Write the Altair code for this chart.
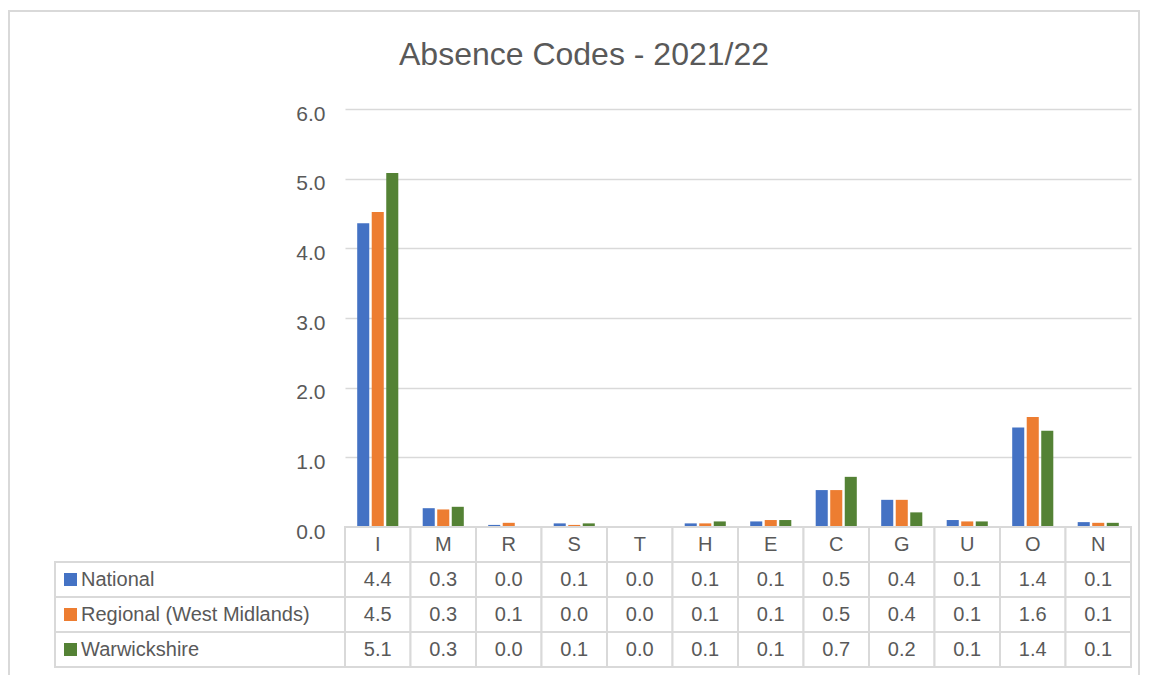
import altair as alt
import pandas as pd

codes = ["I", "M", "R", "S", "T", "H", "E", "C", "G", "U", "O", "N"]
series = ["National", "Regional (West Midlands)", "Warwickshire"]
colors = ["#4472c4", "#ed7d31", "#548235"]

national = [4.36, 0.27, 0.03, 0.052, 0.003, 0.052, 0.08, 0.53, 0.39, 0.10, 1.43, 0.07]
regional = [4.52, 0.252, 0.06, 0.03, 0.003, 0.052, 0.10, 0.53, 0.39, 0.08, 1.58, 0.06]
warwickshire = [5.08, 0.29, 0.004, 0.052, 0.01, 0.08, 0.10, 0.72, 0.21, 0.08, 1.38, 0.06]

FONT = "Liberation Sans"
TXT = "#595959"
GRID = "#d9d9d9"
W, H, ROW = 786, 418, 35
LABEL_W = 290

rows = []
for s, vals in zip(series, [national, regional, warwickshire]):
    for c, v in zip(codes, vals):
        rows.append({"code": c, "series": s, "value": v})
bars_df = pd.DataFrame(rows)

table_rows = [{"code": c, "row": "header", "label": c} for c in codes]
table_rows += [{"code": r["code"], "row": r["series"], "label": f"{r['value']:.1f}"} for r in rows]
table_df = pd.DataFrame(table_rows)

label_df = pd.DataFrame({"col": ["label"] * 3, "series": series})

x_cells = alt.Scale(domain=codes, paddingInner=0, paddingOuter=0)
y_rows = alt.Scale(domain=["header"] + series, range=[H, H + 4 * ROW], paddingInner=0, paddingOuter=0)
x_label = alt.Scale(domain=["label"], range=[-LABEL_W, 0], paddingInner=0, paddingOuter=0)
color_scale = alt.Scale(domain=series, range=colors)

# chart-area frame (decoration, like the Excel chart border)
frame = alt.Chart(pd.DataFrame({"f": [0]})).mark_rect(fill="transparent", stroke=GRID, strokeWidth=2).encode(
    x=alt.value(-336), x2=alt.value(794), y=alt.value(-98), y2=alt.value(580)
)

bars = alt.Chart(bars_df).mark_bar().encode(
    x=alt.X("code:N", scale=x_cells, axis=None, sort=codes),
    xOffset=alt.XOffset("series:N", scale=alt.Scale(domain=series, paddingInner=0.17, paddingOuter=0.84)),
    y=alt.Y("value:Q", scale=alt.Scale(domain=[0, 6]),
            axis=alt.Axis(values=[0, 1, 2, 3, 4, 5, 6], format=".1f", grid=True, domain=False,
                          ticks=False, labelPadding=20, labelFontSize=21, labelColor=TXT,
                          labelFont=FONT, gridColor=GRID, gridWidth=1.5, labelOffset=5, title=None)),
    color=alt.Color("series:N", scale=color_scale, legend=None),
)

cells = alt.Chart(table_df).mark_rect(fill="white", stroke=GRID, strokeWidth=2).encode(
    x=alt.X("code:N", scale=x_cells, axis=None),
    y=alt.Y("row:N", scale=y_rows, axis=None),
)

cell_text = alt.Chart(table_df).mark_text(fontSize=20, font=FONT, color=TXT).encode(
    x=alt.X("code:N", scale=x_cells, axis=None),
    y=alt.Y("row:N", scale=y_rows, axis=None),
    text="label:N",
)

label_cells = alt.Chart(label_df).mark_rect(fill="white", stroke=GRID, strokeWidth=2).encode(
    x=alt.X("col:N", scale=x_label, axis=None),
    y=alt.Y("series:N", scale=y_rows, axis=None),
)

label_squares = alt.Chart(label_df).mark_square(size=169, opacity=1, xOffset=-LABEL_W / 2 + 15.5).encode(
    x=alt.X("col:N", scale=x_label, axis=None),
    y=alt.Y("series:N", scale=y_rows, axis=None),
    color=alt.Color("series:N", scale=color_scale, legend=None),
)

label_text = alt.Chart(label_df).mark_text(align="left", dx=-LABEL_W / 2 + 26, fontSize=20,
                                           font=FONT, color=TXT).encode(
    x=alt.X("col:N", scale=x_label, axis=None),
    y=alt.Y("series:N", scale=y_rows, axis=None),
    text="series:N",
)

chart = alt.layer(frame, bars, cells, cell_text, label_cells, label_squares, label_text).resolve_scale(
    x="independent", y="independent"
).properties(
    width=W,
    height=H,
    title=alt.TitleParams("Absence Codes - 2021/22", fontSize=32, color=TXT, font=FONT,
                          fontWeight="normal", anchor="middle", offset=-62, dx=-154),
    padding={"left": 0, "top": 2, "right": 0, "bottom": 0},
).configure_view(stroke=None)

chart.save("out.html", embed_options={"renderer": "svg", "actions": False})
